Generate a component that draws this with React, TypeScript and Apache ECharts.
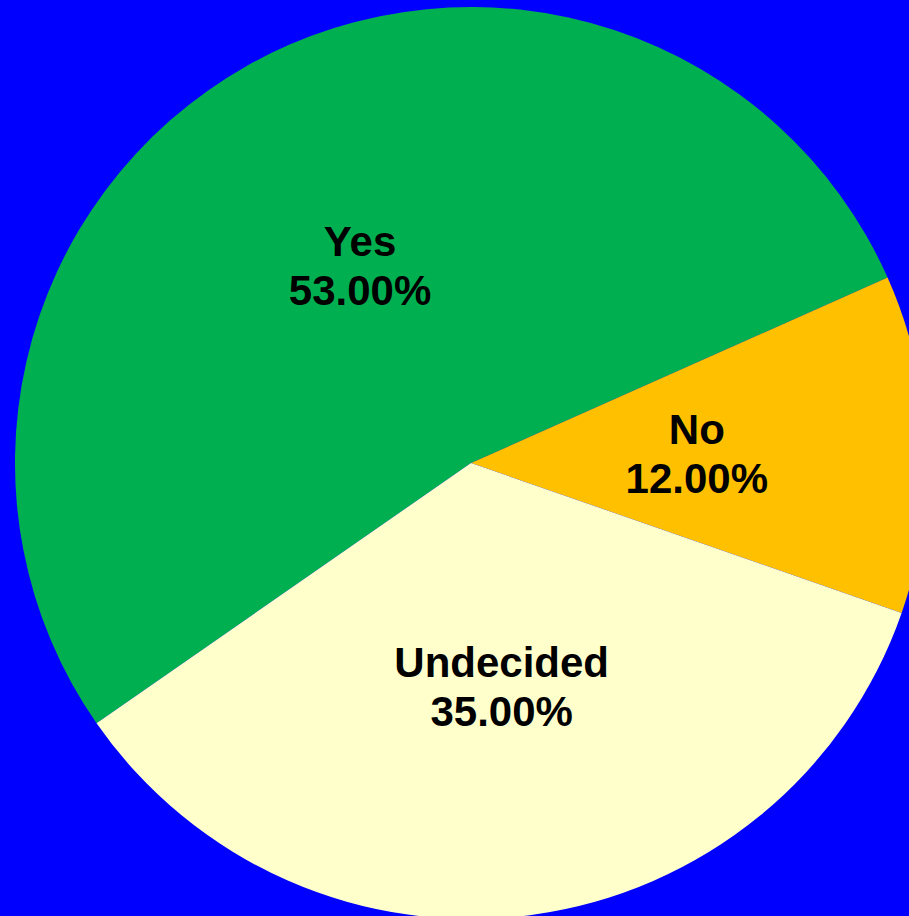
import React, { useEffect, useRef } from "react";
import * as echarts from "echarts";

const categories = ["Yes", "No", "Undecided"];
const values = [53, 12, 35];
const colors = ["#00B050", "#FFC000", "#FFFFCC"];

export default function App() {
  const ref = useRef<HTMLDivElement>(null);
  useEffect(() => {
    document.body.style.margin = "0";
    const chart = echarts.init(ref.current!, null, { renderer: "svg" });
    const total = values.reduce((a, b) => a + b, 0);
    const startAngle = 214.8;
    const pull = 5;
    let acc = 0;
    const offsets = values.map((v) => {
      const mid = startAngle - ((acc + v / 2) / total) * 360;
      acc += v;
      const rad = (mid * Math.PI) / 180;
      return [-pull * Math.cos(rad), pull * Math.sin(rad)];
    });
    chart.setOption({
      animation: false,
      backgroundColor: "#0000FF",
      series: [
        {
          type: "pie",
          center: [471, 463],
          radius: 456,
          startAngle,
          clockwise: true,
          avoidLabelOverlap: false,
          itemStyle: { borderWidth: 0 },
          label: {
            show: true,
            position: "inside",
            color: "#000000",
            fontFamily: "Liberation Sans, Arial, sans-serif",
            fontWeight: "bold",
            fontSize: 42,
            lineHeight: 49,
            formatter: (p: any) =>
              p.name + "\n" + ((p.value / total) * 100).toFixed(2) + "%",
          },
          labelLine: { show: false },
          emphasis: { disabled: true },
          data: categories.map((c, i) => ({
            name: c,
            value: values[i],
            itemStyle: { color: colors[i] },
            label: { offset: offsets[i] },
          })),
        },
      ],
    });
    return () => chart.dispose();
  }, []);
  return (
    <div
      ref={ref}
      style={{ position: "absolute", left: 0, top: 0, width: 909, height: 916 }}
    />
  );
}
